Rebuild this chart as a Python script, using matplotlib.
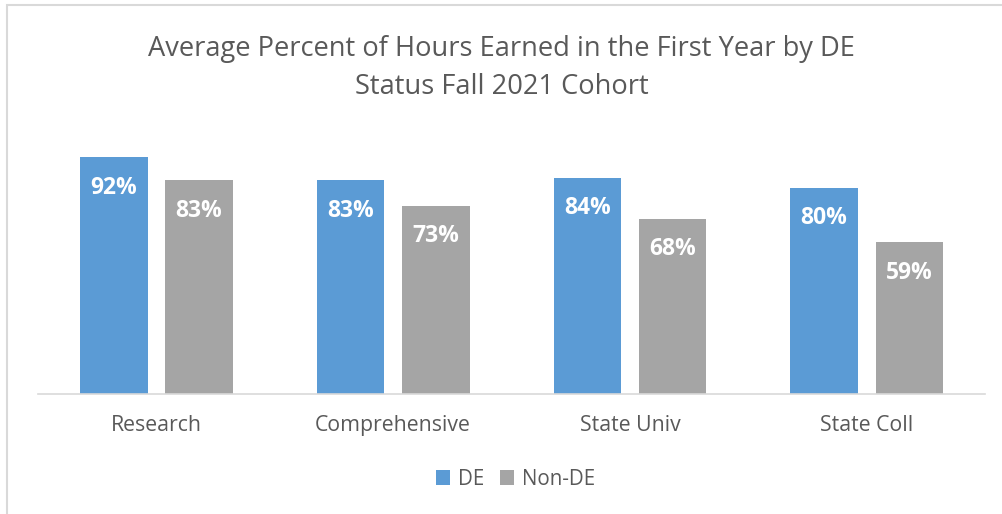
import matplotlib.pyplot as plt
from matplotlib.patches import Rectangle
import numpy as np

# ── data ──────────────────────────────────────────────────────────────────────
categories = ["Research", "Comprehensive", "State Univ", "State Coll"]
de_values = [92, 83, 84, 80]
non_de_values = [83, 73, 68, 59]
series_names = ["DE", "Non-DE"]

COLOR_DE = "#5B9BD5"
COLOR_NON = "#A5A5A5"
TEXT = "#595959"

plt.rcParams["font.family"] = ["Open Sans", "DejaVu Sans"]

fig = plt.figure(figsize=(10.03, 5.14), dpi=100)
ax = fig.add_axes([0.0379, 0.2335, 0.9442, 0.5012])

x = np.arange(len(categories))
width = 0.285
off = 0.18
bars_de = ax.bar(x - off, de_values, width, color=COLOR_DE, label=series_names[0], zorder=2)
bars_non = ax.bar(x + off, non_de_values, width, color=COLOR_NON, label=series_names[1], zorder=2)

# value labels inside the top of each bar
for bars, vals in ((bars_de, de_values), (bars_non, non_de_values)):
    for b, v in zip(bars, vals):
        ax.annotate(f"{v}%", (b.get_x() + b.get_width() / 2, v),
                    xytext=(0, -22), textcoords="offset points",
                    ha="center", va="center", color="white",
                    fontsize=16.5, fontweight="bold", zorder=3)

ax.set_xlim(-0.5, len(categories) - 0.5)
ax.set_ylim(0, 100)
ax.set_xticks(x)
ax.set_xticklabels(categories, fontsize=15.3, color=TEXT)
ax.tick_params(axis="x", length=0, pad=15)
ax.set_yticks([])
for s in ("top", "right", "left"):
    ax.spines[s].set_visible(False)
ax.spines["bottom"].set_color("#D9D9D9")
ax.spines["bottom"].set_linewidth(1.2)

fig.text(0.5, 0.868, "Average Percent of Hours Earned in the First Year by DE\nStatus Fall 2021 Cohort",
         ha="center", va="center", fontsize=19.6, color=TEXT, linespacing=1.45)

fig.legend(handles=[bars_de, bars_non], loc="center", bbox_to_anchor=(0.514, 0.068),
           ncol=2, frameon=False, fontsize=14.8, labelcolor=TEXT,
           handlelength=0.7, handleheight=0.7, handletextpad=0.4, columnspacing=0.75)

# outer chart border (only top and left visible in the crop)
fig.add_artist(Rectangle((7 / 1003, -0.1), 1.2, 1 - 5 / 514 + 0.1,
                         transform=fig.transFigure, fill=False,
                         edgecolor="#D9D9D9", linewidth=1.5))

fig.savefig("out.png", dpi=100)
